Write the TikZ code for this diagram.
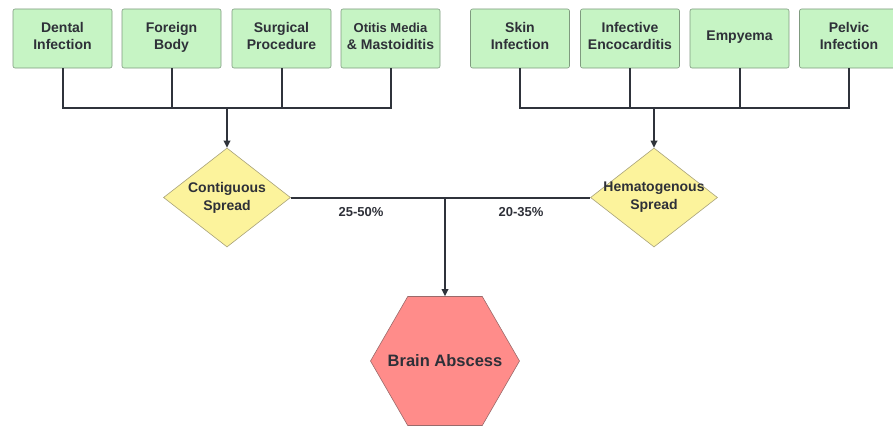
\documentclass[tikz,border=0pt]{standalone}
\usepackage{fontspec}
\setmainfont{Liberation Sans}
\usetikzlibrary{shapes.geometric,arrows.meta}
\definecolor{causegreen}{HTML}{C6F4C4}
\definecolor{causeborder}{HTML}{7F9A7F}
\definecolor{spreadyellow}{HTML}{FCF39C}
\definecolor{spreadborder}{HTML}{A8A27A}
\definecolor{abscessred}{HTML}{FF8C8A}
\definecolor{abscessborder}{HTML}{9A6A6A}
\definecolor{linegray}{HTML}{2F333B}
\definecolor{textgray}{HTML}{2E3038}
\begin{document}
\begin{tikzpicture}
[x=1pt,y=-1pt,
  causedecorate/.style={shape=rectangle,rounded corners=2pt,draw=causeborder,fill=causegreen,line width=0.6pt,
    minimum width=99pt,minimum height=59pt,inner sep=0pt,align=center,text=textgray,text depth=5pt,
    font=\bfseries\fontsize{14}{17}\selectfont},%
  spreaddecorate/.style={shape=diamond,draw=spreadborder,fill=spreadyellow,line width=0.6pt,
    minimum width=127pt,minimum height=99pt,inner sep=0pt},%
  spreadtext/.style={align=center,text=textgray,font=\bfseries\fontsize{14}{18}\selectfont},%
  abscessdecorate/.style={shape=regular polygon,regular polygon sides=6,minimum size=149pt,inner sep=0pt,
    draw=abscessborder,fill=abscessred,line width=0.6pt},%
  abscesstext/.style={text=textgray,font=\bfseries\fontsize{16.5}{20}\selectfont},%
  linedecorate/.style={-,line width=2pt,draw=linegray},%
  arrowdecorate/.style={-{Triangle[length=7pt,width=6.5pt]},line width=2pt,draw=linegray},%
  ratedecorate/.style={text=textgray,font=\bfseries\fontsize{13}{15}\selectfont}]
\useasboundingbox (0,0) rectangle (893,428);
%%
%% causes of contiguous spread
\foreach \nodename/\x/\txt in {dental/62.5/{Dental\\Infection}, foreign/171.5/{Foreign\\Body},
  surgical/281.5/{Surgical\\Procedure}, otitis/390.5/{\fontsize{13}{17}\selectfont Otitis Media\\\& Mastoiditis}} {
  \node (\nodename) at (\x,38.5) [causedecorate] {\txt};
}
%% causes of hematogenous spread
\foreach \nodename/\x/\txt in {skin/520/{Skin\\Infection}, endocard/630/{Infective\\Encocarditis},
  empyema/739.5/{Empyema}, pelvic/849/{Pelvic\\Infection}} {
  \node (\nodename) at (\x,38.5) [causedecorate] {\txt};
}
%% junctions
\coordinate (jl) at (227,108);
\coordinate (jr) at (654,108);
\coordinate (jm) at (445,197.5);
%% routes of spread
\node (contig) at (227,197.5) [spreaddecorate,label={[spreadtext]center:Contiguous\\Spread}] {};
\node (hemato) at (654,197.5) [spreaddecorate,label={[spreadtext]center:Hematogenous\\Spread}] {};
%% outcome
\node (abscess) at (445,361) [abscessdecorate,label={[abscesstext]center:Brain Abscess}] {};
%% rates
\node (ratel) at (361,212) [ratedecorate] {25-50\%};
\node (rater) at (521,212) [ratedecorate] {20-35\%};
%% edges or lines
\path
\foreach \startnode in {dental, foreign, surgical, otitis} {
  (\startnode.south) edge[linedecorate,to path={|- (\tikztotarget)}] (jl)
};
\path
\foreach \startnode in {skin, endocard, empyema, pelvic} {
  (\startnode.south) edge[linedecorate,to path={|- (\tikztotarget)}] (jr)
};
\draw[arrowdecorate] (jl) -- (contig.north);
\draw[arrowdecorate] (jr) -- (hemato.north);
\draw[linedecorate] (contig.east) -- (hemato.west);
\draw[arrowdecorate] (jm) -- (abscess.north);
\end{tikzpicture}
\end{document}
